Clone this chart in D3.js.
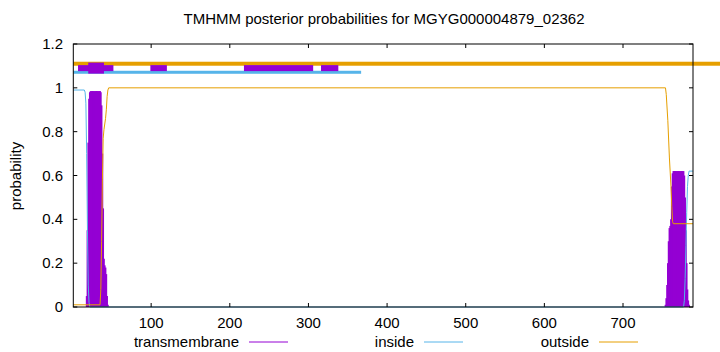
<!DOCTYPE html>
<html>
<head>
<meta charset="utf-8">
<script src="https://cdn.jsdelivr.net/npm/d3@7"></script>
<style>
	body { margin: 0; background: #fff; }
	svg { display: block; font-family: "Liberation Sans", Arial, sans-serif; }
</style>
</head>
<body>
<div id="chart"></div>
<script>
// sequence length and ticks
var seqLength = 789;
var xTicks = [100, 200, 300, 400, 500, 600, 700];
var yTicks = [0, 0.2, 0.4, 0.6, 0.8, 1, 1.2];

// posterior probabilities as [residue, value]
var insideProb = [[1, 0.99], [15, 0.99], [16, 0.98], [17, 0.93], [18, 0.7], [19, 0.35], [20, 0.1], [21, 0.02], [22, 0],
	[777, 0], [778, 0.03], [779, 0.13], [780, 0.28], [781, 0.43], [782, 0.55], [783, 0.6], [784, 0.62], [789, 0.62]];
var outsideProb = [[1, 0.01], [35, 0.01], [36, 0.08], [37, 0.3], [38, 0.58], [39, 0.77], [40, 0.81], [42, 0.86], [43, 0.9],
	[44, 0.96], [45, 0.99], [46, 1], [754, 1], [755, 0.97], [757, 0.85], [759, 0.68], [761, 0.55], [762, 0.46], [763, 0.39], [764, 0.38], [789, 0.38]];

// transmembrane, one value per residue where it is not zero
var tm1Start = 18;
var tm1 = [0.05, 0.35, 0.75, 0.95, 0.98, 0.985, 0.985, 0.985, 0.985, 0.985, 0.985, 0.985, 0.985, 0.985, 0.985,
	0.985, 0.985, 0.985, 0.98, 0.92, 0.7, 0.45, 0.22, 0.19, 0.18, 0.15, 0.05, 0.01];
var tm2Start = 754;
var tm2 = [0.01, 0.04, 0.1, 0.2, 0.3, 0.36, 0.37, 0.4, 0.55, 0.61, 0.62, 0.62, 0.62, 0.62, 0.62, 0.62, 0.62,
	0.62, 0.62, 0.62, 0.62, 0.62, 0.62, 0.62, 0.6, 0.5, 0.35, 0.2, 0.08, 0.03, 0.01];

// predicted topology bars above the curves
var topOutside = [[1, 830]];
var topInside = [[1, 367]];
var topTM = [[7, 52], [99, 120], [218, 306], [316, 338]];
var topTMCore = [[20, 40]];

var colTM = "#9400d3", colIn = "#56b4e9", colOut = "#e69f00";

var width = 720, height = 352;
var margin = {left: 73.3, right: 27, top: 44, bottom: 45};
var fs = 15;

var svg = d3.select("#chart").append("svg")
	.attr("width", width)
	.attr("height", height);

var x = d3.scaleLinear().domain([1, seqLength]).range([margin.left, width - margin.right]);
var y = d3.scaleLinear().domain([0, 1.2]).range([height - margin.bottom, margin.top]);

// title
svg.append("text")
	.attr("x", 384).attr("y", 24)
	.attr("text-anchor", "middle")
	.attr("font-size", fs)
	.text("TMHMM posterior probabilities for MGYG000004879_02362");

// y label
svg.append("text")
	.attr("transform", "translate(21," + 176 + ") rotate(-90)")
	.attr("text-anchor", "middle")
	.attr("font-size", fs)
	.text("probability");

// tick labels
svg.append("g").selectAll("text")
	.data(yTicks).enter().append("text")
	.attr("x", 63).attr("y", d => y(d) + 5)
	.attr("text-anchor", "end")
	.attr("font-size", fs)
	.text(d => d);

svg.append("g").selectAll("text")
	.data(xTicks).enter().append("text")
	.attr("x", d => x(d)).attr("y", 328)
	.attr("text-anchor", "middle")
	.attr("font-size", fs)
	.text(d => d);

// transmembrane impulses
var tmData = [];
tm1.forEach(function(v, i) { tmData.push([tm1Start + i, v]); });
tm2.forEach(function(v, i) { tmData.push([tm2Start + i, v]); });

svg.append("g").selectAll("line")
	.data(tmData).enter().append("line")
	.attr("x1", d => x(d[0])).attr("x2", d => x(d[0]))
	.attr("y1", y(0)).attr("y2", d => y(d[1]))
	.attr("stroke", colTM)
	.attr("stroke-width", 1.7);

var line = d3.line().x(d => x(d[0])).y(d => y(d[1]));

svg.append("path")
	.attr("d", line(insideProb))
	.attr("fill", "none")
	.attr("stroke", colIn)
	.attr("stroke-width", 1);

svg.append("path")
	.attr("d", line(outsideProb))
	.attr("fill", "none")
	.attr("stroke", colOut)
	.attr("stroke-width", 1);

// topology bars
function bars(data, level, thick, color) {
	svg.append("g").selectAll("rect")
		.data(data).enter().append("rect")
		.attr("x", d => x(d[0]))
		.attr("width", d => x(d[1]) - x(d[0]))
		.attr("y", y(level) - thick / 2)
		.attr("height", thick)
		.attr("fill", color);
}
bars(topOutside, 1.11, 4, colOut);
bars(topInside, 1.071, 3, colIn);
bars(topTM, 1.09, 6, colTM);
bars(topTMCore, 1.09, 11, colTM);

// frame and tics (inward, mirrored)
var x0 = x.range()[0], x1 = x.range()[1], y0 = y.range()[0], y1 = y.range()[1];
var tickLen = 4;
var frame = svg.append("g").attr("stroke", "#000").attr("stroke-width", 1);
yTicks.forEach(function(t) {
	frame.append("line").attr("x1", x0).attr("x2", x0 + tickLen).attr("y1", y(t)).attr("y2", y(t));
	frame.append("line").attr("x1", x1).attr("x2", x1 - tickLen).attr("y1", y(t)).attr("y2", y(t));
});
xTicks.forEach(function(t) {
	frame.append("line").attr("x1", x(t)).attr("x2", x(t)).attr("y1", y0).attr("y2", y0 - tickLen);
	frame.append("line").attr("x1", x(t)).attr("x2", x(t)).attr("y1", y1).attr("y2", y1 + tickLen);
});
frame.append("rect")
	.attr("x", x0).attr("y", y1)
	.attr("width", x1 - x0).attr("height", y0 - y1)
	.attr("fill", "none");

// legend
var legend = [
	{label: "transmembrane", color: colTM, right: 239},
	{label: "inside", color: colIn, right: 414},
	{label: "outside", color: colOut, right: 589}
];
var lg = svg.append("g").selectAll("g").data(legend).enter().append("g");
lg.append("text")
	.attr("x", d => d.right).attr("y", 347)
	.attr("text-anchor", "end")
	.attr("font-size", fs)
	.text(d => d.label);
lg.append("line")
	.attr("x1", d => d.right + 10).attr("x2", d => d.right + 49)
	.attr("y1", 342).attr("y2", 342)
	.attr("stroke", d => d.color)
	.attr("stroke-width", 1);
</script>
</body>
</html>
